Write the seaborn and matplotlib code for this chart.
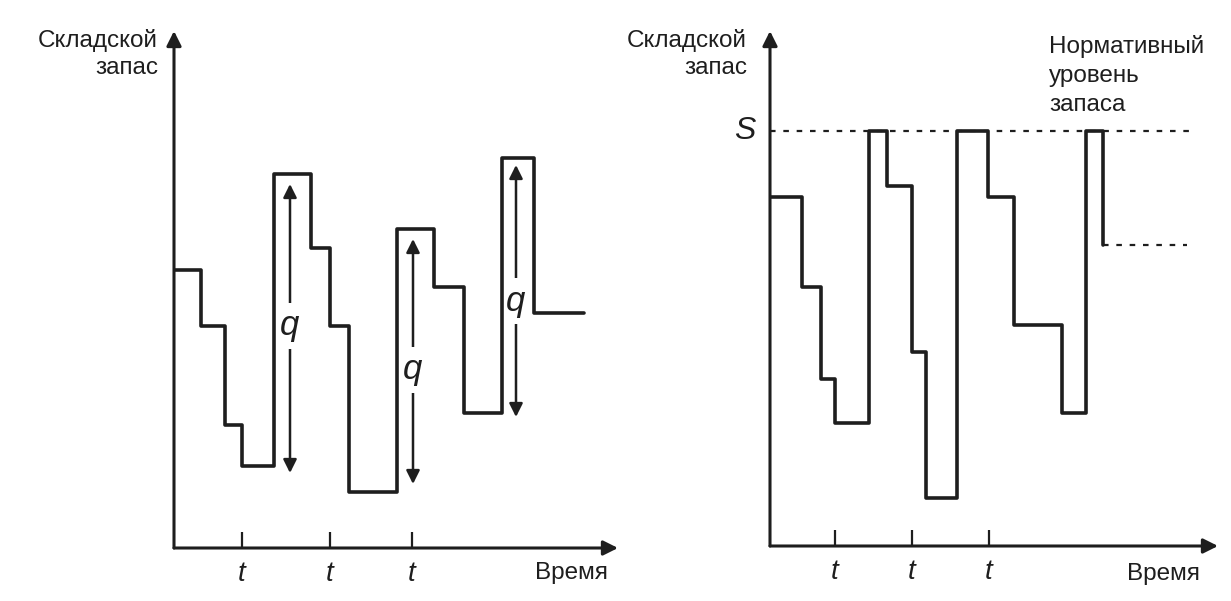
import matplotlib.pyplot as plt
import seaborn as sns

# --- Data (time / stock level, in drawing units from the origin) ---
LEFT_TIMES = [0, 27, 51, 68, 100, 137, 156, 175, 223, 260, 290, 328, 360, 410]
LEFT_STOCK = [278, 222, 123, 82, 374, 300, 222, 56, 319, 261, 135, 390, 235, 235]
LEFT_TICKS = [68, 156, 238]
LEFT_Q_X = [116, 239, 342]
LEFT_Q_TOP = [364, 309, 383]
LEFT_Q_BOTTOM = [75, 64, 131]
LEFT_Q_LABEL_Y = [222, 178, 247]

RIGHT_TIMES = [0, 32, 51, 65, 99, 117, 142, 156, 187, 218, 244, 292, 316, 333]
RIGHT_STOCK = [349, 259, 167, 123, 415, 360, 194, 48, 415, 349, 221, 133, 415, 301]
RIGHT_TAIL_TIMES = [333, 417]
RIGHT_TICKS = [65, 142, 219]
NORM_LEVEL = 415
NORM_END = 421

Y_LABEL = "Складской\nзапас"
X_LABEL = "Время"
NORM_LABEL = "Нормативный\nуровень\nзапаса"

INK = "#1e1e1e"

sns.set_theme(style="white")
plt.rcParams["font.family"] = ["Liberation Sans", "DejaVu Sans"]

W, H = 1231, 601
fig = plt.figure(figsize=(W / 100, H / 100), dpi=100)
fig.patch.set_facecolor("white")


def make_axes(ox, oy, w, h):
    # origin given in image pixels (top-left based)
    ax = fig.add_axes([ox / W, (H - oy) / H, w / W, h / H])
    ax.set_xlim(0, w)
    ax.set_ylim(0, h)
    ax.axis("off")
    # axes with arrow heads
    arrow = dict(arrowstyle="-|>", lw=2.2, color=INK, mutation_scale=22,
                 shrinkA=0, shrinkB=0)
    ax.annotate("", xy=(0, h), xytext=(0, 0), arrowprops=arrow,
                annotation_clip=False)
    ax.annotate("", xy=(w, 0), xytext=(0, 0), arrowprops=arrow,
                annotation_clip=False)
    return ax


def decorate(ax, ticks, ylab_x, ylab_y, xlab_x, xlab_y):
    ax.vlines(ticks, 0, 16, color=INK, lw=1.6)
    for t in ticks:
        ax.text(t, -26, "t", ha="center", va="center", fontsize=20,
                style="italic", color=INK)
    ax.text(ylab_x, ylab_y, Y_LABEL, ha="right", va="top", fontsize=17.5,
            color=INK, linespacing=1.3, clip_on=False)
    ax.text(xlab_x, xlab_y, X_LABEL, ha="center", va="center", fontsize=17.5,
            color=INK, clip_on=False)


# --- Left panel ---
ax1 = make_axes(174, 548, 444, 517)
sns.lineplot(x=LEFT_TIMES, y=LEFT_STOCK, drawstyle="steps-post",
             estimator=None, color=INK, lw=2.6, ax=ax1, zorder=3)
for qx, qt, qb, qy in zip(LEFT_Q_X, LEFT_Q_TOP, LEFT_Q_BOTTOM, LEFT_Q_LABEL_Y):
    ax1.annotate("", xy=(qx, qt), xytext=(qx, qb), zorder=1,
                 arrowprops=dict(arrowstyle="<|-|>", lw=1.8, color=INK,
                                 mutation_scale=20, shrinkA=0, shrinkB=0))
    ax1.text(qx, qy, "q", ha="center", va="center", fontsize=25,
             style="italic", color=INK, zorder=2,
             bbox=dict(facecolor="white", edgecolor="none", pad=5))
decorate(ax1, LEFT_TICKS, -16, 519, 397, -25)

# --- Right panel ---
ax2 = make_axes(770, 546, 448, 515)
sns.lineplot(x=RIGHT_TIMES, y=RIGHT_STOCK, drawstyle="steps-post",
             estimator=None, color=INK, lw=2.6, ax=ax2, zorder=3)
ax2.plot(RIGHT_TAIL_TIMES, [RIGHT_STOCK[-1]] * 2, color=INK, lw=1.6,
         linestyle=(0, (2.5, 3.5)))
ax2.plot([0, NORM_END], [NORM_LEVEL, NORM_LEVEL], color=INK, lw=1.6,
         linestyle=(0, (2.5, 3.5)), zorder=1)
ax2.text(-25, NORM_LEVEL, "S", ha="center", va="center", fontsize=23,
         style="italic", color=INK)
ax2.text(279, 511, NORM_LABEL, ha="left", va="top", fontsize=17.5,
         color=INK, linespacing=1.4, clip_on=False)
decorate(ax2, RIGHT_TICKS, -23, 517, 393, -28)

fig.savefig("out.png", dpi=100, facecolor="white")
